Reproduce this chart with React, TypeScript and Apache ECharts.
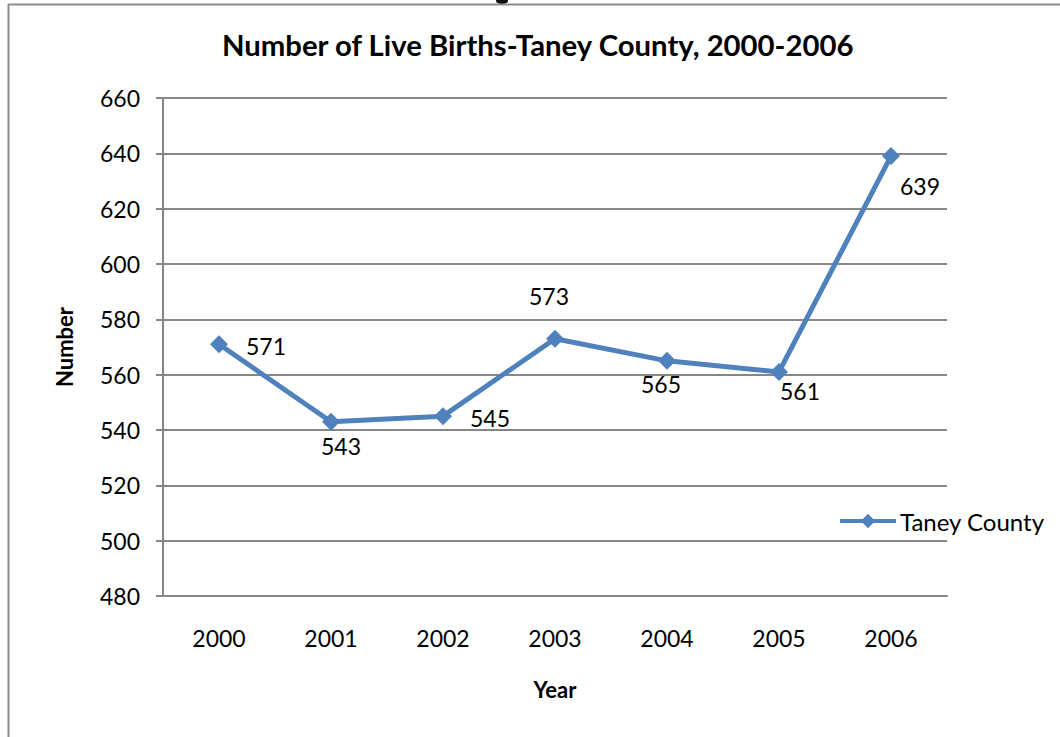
import React, { useEffect, useRef } from "react";
import * as echarts from "echarts";

const years = ["2000", "2001", "2002", "2003", "2004", "2005", "2006"];
const births = [571, 543, 545, 573, 565, 561, 639];
const labelPositions = ["right", "bottom", "right", "top", "bottom", "bottom", "right"];
const labelOffsets = [[8, 2], [10, -6], [8, 2], [-6, -12], [-6, -7], [21, -11], [-10, 30]];
const seriesName = "Taney County";
const FONT = "Lato, 'Open Sans', sans-serif";

export default function App() {
  const ref = useRef<HTMLDivElement>(null);
  useEffect(() => {
    if (!ref.current) return;
    const chart = echarts.init(ref.current, null, { renderer: "svg" });
    chart.setOption({
      animation: false,
      backgroundColor: "#ffffff",
      textStyle: { fontFamily: FONT, color: "#000" },
      title: {
        text: "Number of Live Births-Taney County, 2000-2006",
        left: 222,
        top: 30,
        padding: 0,
        textStyle: { fontFamily: FONT, fontSize: 29.3, fontWeight: "bold", color: "#000" },
      },
      legend: {
        left: 833,
        top: 504,
        itemWidth: 56,
        itemHeight: 18,
        itemGap: 4,
        itemStyle: { color: "#4F81BD" },
        lineStyle: { color: "#4F81BD", width: 4 },
        textStyle: { fontFamily: FONT, fontSize: 24, color: "#000", padding: [0, 0, 0, -1] },
        data: [seriesName],
      },
      grid: { left: 163, right: 113, top: 98, bottom: 141, containLabel: false },
      xAxis: {
        type: "category",
        data: years,
        boundaryGap: true,
        name: "Year",
        nameLocation: "middle",
        nameGap: 82,
        nameTextStyle: { fontFamily: FONT, fontSize: 22, fontWeight: "bold", color: "#000", verticalAlign: "top" },
        axisLine: { show: true, lineStyle: { color: "#868686", width: 2 } },
        axisTick: { show: false },
        axisLabel: { fontFamily: FONT, fontSize: 23, color: "#000", margin: 30 },
      },
      yAxis: {
        type: "value",
        min: 480,
        max: 660,
        interval: 20,
        name: "Number",
        nameLocation: "middle",
        nameGap: 88,
        nameRotate: 90,
        nameTextStyle: { fontFamily: FONT, fontSize: 22, fontWeight: "bold", color: "#000" },
        axisLine: { show: true, lineStyle: { color: "#868686", width: 2 } },
        axisTick: { show: true, inside: false, length: 7, lineStyle: { color: "#868686", width: 2 } },
        axisLabel: { fontFamily: FONT, fontSize: 23, color: "#000", margin: 23 },
        splitLine: { show: true, lineStyle: { color: "#868686", width: 2 } },
      },
      series: [
        {
          name: seriesName,
          type: "line",
          data: births.map((v, i) => ({
            value: v,
            label: {
              show: true,
              position: labelPositions[i],
              offset: labelOffsets[i],
              distance: 10,
            },
          })),
          symbol: "diamond",
          symbolSize: 18,
          lineStyle: { color: "#4F81BD", width: 5 },
          itemStyle: { color: "#4F81BD" },
          label: { fontFamily: FONT, fontSize: 23, color: "#000" },
        },
      ],
      graphic: [
        {
          type: "ellipse",
          shape: { cx: 502, cy: 1, rx: 6, ry: 3 },
          style: { fill: "#111" },
        },
        {
          type: "line",
          shape: { x1: 8, y1: 4.5, x2: 1060, y2: 4.5 },
          style: { stroke: "#8c8c8c", lineWidth: 2 },
        },
        {
          type: "line",
          shape: { x1: 8.5, y1: 4, x2: 8.5, y2: 737 },
          style: { stroke: "#8c8c8c", lineWidth: 2 },
        },
      ],
    });
    return () => chart.dispose();
  }, []);
  return (
    <div
      ref={ref}
      style={{ position: "fixed", left: 0, top: 0, width: 1060, height: 737, background: "#fff" }}
    />
  );
}
